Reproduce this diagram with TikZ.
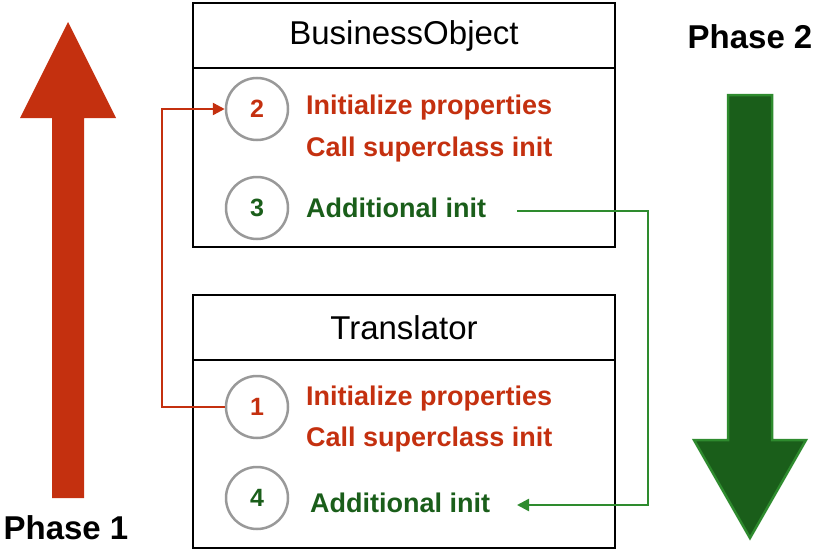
\documentclass[tikz,border=0pt]{standalone}
\usepackage{fontspec}
\setmainfont{Liberation Sans}
\usetikzlibrary{arrows.meta}
\definecolor{rd}{HTML}{C4300F}
\definecolor{gn}{HTML}{1A5E1A}
\definecolor{gnl}{HTML}{2E8B2E}
\definecolor{gr}{HTML}{999999}
\tikzset{
  px/.style={x=1pt,y=-1pt},
  box/.style={draw,line width=1.2pt},
  num/.style={circle,draw=gr,line width=2.5pt,minimum size=62pt,inner sep=0pt,font=\fontsize{25}{25}\selectfont\bfseries},
  item/.style={anchor=west,font=\fontsize{27}{27}\selectfont\bfseries,inner sep=0pt},
  title/.style={font=\fontsize{33}{33}\selectfont},
  phase/.style={font=\fontsize{33}{33}\selectfont\bfseries}
}
\begin{document}
\begin{tikzpicture}[px]
\useasboundingbox (0,0) rectangle (819,554);
% red arrow
\fill[rd] (52,498) -- (52,118) -- (20,118) -- (68,22) -- (116,118) -- (84,118) -- (84,498) -- cycle;
\node[phase] (p1) at (66,528) {Phase 1};
% green arrow
\filldraw[fill=gn,draw=gnl,line width=2.5pt] (728,95) -- (728,440) -- (694,440) -- (750,538) -- (806,440) -- (772,440) -- (772,95) -- cycle;
\node[phase] (p2) at (750,37) {Phase 2};
% boxes
\draw[box] (193,3) rectangle (615,247);
\draw[box] (193,68) -- (615,68);
\node[title] (bo) at (404,36) {BusinessObject};
\draw[box] (193,295) rectangle (615,548);
\draw[box] (193,360) -- (615,360);
\node[title] (tr) at (404,328) {Translator};
% circles
\node[num,text=rd] (c2) at (257,109) {2};
\node[num,text=gn] (c3) at (257,208) {3};
\node[num,text=rd] (c1) at (257,407) {1};
\node[num,text=gn] (c4) at (257,498) {4};
% texts
\node[item,text=rd] (t2a) at (306,108) {Initialize properties};
\node[item,text=rd] (t2b) at (306,150) {Call superclass init};
\node[item,text=gn] (t3) at (306,208) {Additional init};
\node[item,text=rd] (t1a) at (306,399) {Initialize properties};
\node[item,text=rd] (t1b) at (306,440) {Call superclass init};
\node[item,text=gn] (t4) at (310,503) {Additional init};
% connectors
\coordinate (g1) at (517,211);
\coordinate (g2) at (517,505);
\draw[rd,line width=2.5pt,-{Triangle[length=12pt,width=12pt]}] (c1.west) -- (162,407) -- (162,109) -- (c2.west);
\draw[gnl,line width=2.5pt,-{Triangle[length=12pt,width=12pt]}] (g1) -- (648,211) -- (648,505) -- (g2);
\end{tikzpicture}
\end{document}
